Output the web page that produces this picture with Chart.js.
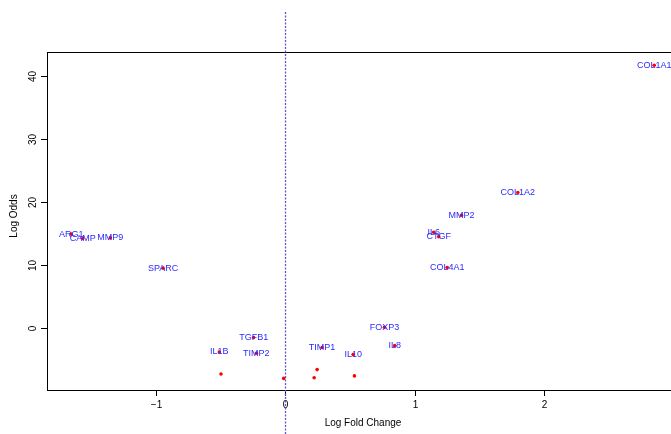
<!DOCTYPE html>
<html>
<head>
<meta charset="utf-8">
<script src="https://cdn.jsdelivr.net/npm/chart.js@4"></script>
<style>
  html, body { margin: 0; padding: 0; background: #fff; overflow: hidden; }
  #wrap { width: 700px; height: 434px; }
</style>
</head>
<body>
<div id="wrap"><canvas id="chart" width="700" height="434"></canvas></div>
<script>
// ═══════════ DATA ═══════════
const genes = ['ARG1', 'CAMP', 'MMP9', 'SPARC', 'TGFB1', 'IL1B', 'TIMP2', 'TIMP1', 'IL10', 'FOXP3', 'IL8',
  'COL1A2', 'MMP2', 'IL6', 'CTGF', 'COL4A1', 'COL1A1', '', '', '', '', ''];
const logFC = [-1.653, -1.565, -1.351, -0.944, -0.245, -0.51, -0.224, 0.283, 0.523, 0.765, 0.844,
  1.794, 1.359, 1.145, 1.184, 1.249, 2.847, -0.497, -0.013, 0.245, 0.222, 0.533];
const logOdds = [14.9, 14.2, 14.3, 9.5, -1.5, -3.8, -4.0, -3.1, -4.2, 0.1, -2.8,
  21.5, 17.9, 15.2, 14.5, 9.6, 41.7, -7.3, -8.0, -6.6, -7.9, -7.6];

const xTicks = [-1, 0, 1, 2, 3];
const yTicks = [0, 10, 20, 30, 40];

const FONT = '"Liberation Sans", Arial, Helvetica, sans-serif';

// ═══════════ R-STYLE AXES + LABELS ═══════════
const rPlot = {
  id: 'rPlot',
  afterDatasetsDraw(chart) {
    const { ctx, chartArea: a, scales: { x, y } } = chart;
    ctx.save();

    // gene labels
    ctx.font = '9px ' + FONT;
    ctx.fillStyle = '#2a2aff';
    ctx.textAlign = 'center';
    ctx.textBaseline = 'middle';
    genes.forEach((g, i) => {
      if (!g) return;
      ctx.fillText(g, x.getPixelForValue(logFC[i]), y.getPixelForValue(logOdds[i]));
    });

    // box
    ctx.strokeStyle = '#000';
    ctx.lineWidth = 1;
    ctx.strokeRect(Math.round(a.left) + 0.5, Math.round(a.top) + 0.5,
      Math.round(a.right - a.left), Math.round(a.bottom - a.top));

    // x ticks
    ctx.fillStyle = '#000';
    ctx.font = '10px ' + FONT;
    ctx.textAlign = 'center';
    ctx.textBaseline = 'middle';
    xTicks.forEach(t => {
      const px = Math.round(x.getPixelForValue(t)) + 0.5;
      ctx.beginPath();
      ctx.moveTo(px, a.bottom);
      ctx.lineTo(px, a.bottom + 6);
      ctx.stroke();
      ctx.fillText(String(t).replace('-', '\u2212'), px, a.bottom + 15);
    });

    // y ticks (rotated labels)
    yTicks.forEach(t => {
      const py = Math.round(y.getPixelForValue(t)) + 0.5;
      ctx.beginPath();
      ctx.moveTo(a.left, py);
      ctx.lineTo(a.left - 6, py);
      ctx.stroke();
      ctx.save();
      ctx.translate(a.left - 14, py);
      ctx.rotate(-Math.PI / 2);
      ctx.fillText(String(t), 0, 0);
      ctx.restore();
    });

    // titles
    ctx.fillText('Log Fold Change', (a.left + a.right) / 2 - 4, 423);
    ctx.save();
    ctx.translate(14, 216);
    ctx.rotate(-Math.PI / 2);
    ctx.fillText('Log Odds', 0, 0);
    ctx.restore();

    // dotted line at 0, across whole figure
    const zx = Math.round(x.getPixelForValue(0)) + 0.5;
    ctx.strokeStyle = '#5a5ac8';
    ctx.lineWidth = 1.3;
    ctx.setLineDash([2, 1.5]);
    ctx.beginPath();
    ctx.moveTo(zx, 12);
    ctx.lineTo(zx, 434);
    ctx.stroke();

    ctx.restore();
  }
};

// ═══════════ CHART ═══════════
new Chart(document.getElementById('chart'), {
  type: 'scatter',
  data: {
    datasets: [{
      data: logFC.map((v, i) => ({ x: v, y: logOdds[i] })),
      backgroundColor: '#ff0000',
      borderColor: '#ff0000',
      pointRadius: 1.8,
      borderWidth: 0
    }]
  },
  options: {
    responsive: false,
    animation: false,
    layout: { padding: { left: 47, top: 52, right: 13, bottom: 44 } },
    scales: {
      x: { type: 'linear', min: -1.84, max: 3.1, display: false },
      y: { type: 'linear', min: -9.84, max: 43.8, display: false }
    },
    plugins: { legend: { display: false }, tooltip: { enabled: false } }
  },
  plugins: [rPlot]
});
</script>
</body>
</html>
